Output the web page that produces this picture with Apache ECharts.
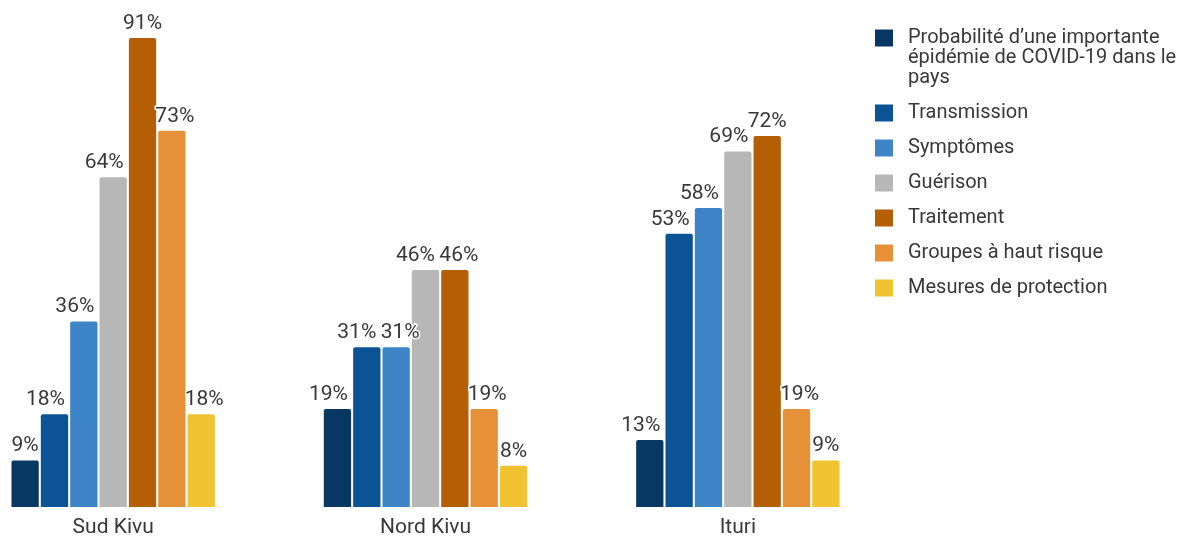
<!DOCTYPE html>
<html>
<head>
<meta charset="utf-8">
<script src="https://cdn.jsdelivr.net/npm/echarts@6/dist/echarts.min.js"></script>
<style>
    html, body {margin: 0; padding: 0; background: #fff;}
    #chart {width: 1188px; height: 538px;}
</style>
</head>
<body>
<div id="chart"></div>
<script>
var regions = ['Sud Kivu', 'Nord Kivu', 'Ituri'];
var topics = [
    'Probabilité d\u2019une importante\népidémie de COVID-19 dans le\npays',
    'Transmission',
    'Symptômes',
    'Guérison',
    'Traitement',
    'Groupes à haut risque',
    'Mesures de protection'
];
var colors = ['#073763', '#0b5394', '#3d85c6', '#b7b7b7', '#b45f06', '#e69138', '#f1c232'];
// une ligne par thème : Sud Kivu, Nord Kivu, Ituri
var values = [
    [9, 19, 13],
    [18, 31, 53],
    [36, 31, 58],
    [64, 46, 69],
    [91, 46, 72],
    [73, 19, 19],
    [18, 8, 9]
];

var chart = echarts.init(document.getElementById('chart'));

// décale l'étiquette quand la barre voisine est plus haute (évite le chevauchement)
function labelShift(s, d) {
    var v = values[s][d];
    if (v < 10) return 0;
    var prev = s > 0 ? values[s - 1][d] : null;
    var next = s < values.length - 1 ? values[s + 1][d] : null;
    if (prev !== null && prev === v) return 4;
    if (next !== null && next === v) return -10;
    if (next !== null && next > v) return -9;
    if (prev !== null && prev > v) return 3;
    return 0;
}

var series = [];
for (var i = 0; i < topics.length; i++) {
    series.push({
        name: topics[i],
        type: 'bar',
        barWidth: 27.3,
        barGap: '7.5%',
        itemStyle: {color: colors[i], borderRadius: [2, 2, 0, 0]},
        label: {
            show: true,
            position: 'top',
            distance: 4,
            formatter: '{c}%',
            color: '#383838',
            fontFamily: 'Roboto',
            fontSize: 21,
            textBorderColor: '#fff',
            textBorderWidth: 3
        },
        labelLayout: function (p) {
            return {dx: labelShift(p.seriesIndex, p.dataIndex)};
        },
        data: values[i]
    });
}

var option = {
    animation: false,
    color: colors,
    legend: {
        orient: 'vertical',
        left: 875,
        top: -12,
        padding: 0,
        itemGap: 15,
        itemWidth: 18,
        itemHeight: 17,
        icon: 'rect',
        selectedMode: false,
        // lignes vides devant le premier libellé : le carré reste sur la 1re ligne
        formatter: function (name) {
            return name.indexOf('\n') > -1 ? '\n\n' + name : name;
        },
        textStyle: {
            color: '#383838',
            fontFamily: 'Roboto',
            fontSize: 20,
            lineHeight: 20,
            padding: [0, 0, 0, 10]
        },
        data: topics
    },
    grid: {
        left: -43,
        right: 294,
        top: 38,
        bottom: 31,
        outerBoundsMode: 'none',
        containLabel: false
    },
    xAxis: {
        type: 'category',
        data: regions,
        axisLine: {show: false},
        axisTick: {show: false},
        axisLabel: {
            margin: 10,
            color: '#383838',
            fontFamily: 'Roboto',
            fontSize: 21
        }
    },
    yAxis: {
        type: 'value',
        min: 0,
        max: 91,
        show: false,
        splitLine: {show: false}
    },
    series: series
};

chart.setOption(option);
</script>
</body>
</html>
